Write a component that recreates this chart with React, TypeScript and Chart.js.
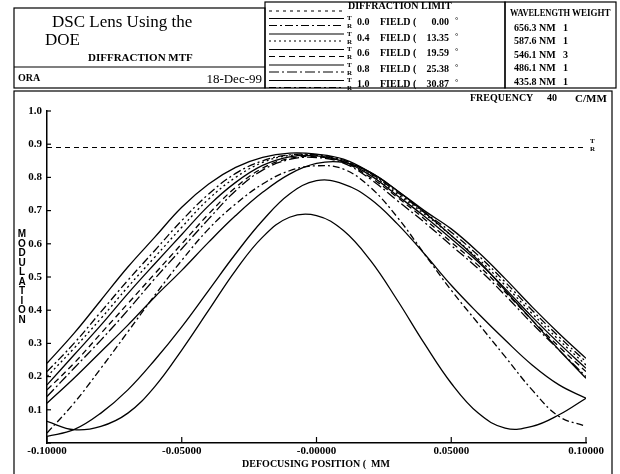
import React, { useEffect, useRef } from 'react';
import { Chart, registerables } from 'chart.js';

Chart.register(...registerables);

// ---------- data ----------
const defocus = [-0.1, -0.09, -0.08, -0.07, -0.06, -0.05, -0.04, -0.03, -0.02, -0.01, 0.0, 0.01, 0.02, 0.03, 0.04, 0.05, 0.06, 0.07, 0.08, 0.09, 0.1];

const field00T = [0.24, 0.33, 0.43, 0.53, 0.62, 0.71, 0.78, 0.83, 0.86, 0.873, 0.87, 0.855, 0.815, 0.76, 0.70, 0.645, 0.575, 0.495, 0.41, 0.33, 0.255];
const field00R = [0.215, 0.30, 0.395, 0.49, 0.58, 0.67, 0.75, 0.812, 0.85, 0.868, 0.868, 0.852, 0.812, 0.755, 0.695, 0.635, 0.565, 0.485, 0.40, 0.32, 0.245];
const field04T = [0.175, 0.265, 0.355, 0.45, 0.54, 0.628, 0.715, 0.785, 0.836, 0.862, 0.865, 0.848, 0.806, 0.745, 0.683, 0.615, 0.545, 0.465, 0.38, 0.30, 0.225];
const field04R = [0.20, 0.285, 0.375, 0.47, 0.56, 0.65, 0.735, 0.80, 0.845, 0.866, 0.866, 0.85, 0.81, 0.75, 0.69, 0.625, 0.555, 0.475, 0.39, 0.31, 0.235];
const field06T = [0.12, 0.195, 0.275, 0.355, 0.44, 0.52, 0.605, 0.685, 0.755, 0.81, 0.842, 0.845, 0.815, 0.76, 0.695, 0.625, 0.55, 0.46, 0.37, 0.28, 0.195];
const field06R = [0.16, 0.24, 0.33, 0.42, 0.51, 0.60, 0.69, 0.77, 0.828, 0.857, 0.862, 0.846, 0.80, 0.74, 0.675, 0.605, 0.535, 0.455, 0.37, 0.29, 0.215];
const field08T = [0.02, 0.04, 0.09, 0.16, 0.25, 0.35, 0.46, 0.57, 0.67, 0.75, 0.79, 0.78, 0.735, 0.66, 0.57, 0.475, 0.39, 0.31, 0.235, 0.175, 0.135];
const field08R = [0.14, 0.225, 0.31, 0.40, 0.495, 0.585, 0.675, 0.76, 0.822, 0.854, 0.86, 0.843, 0.795, 0.73, 0.665, 0.595, 0.525, 0.445, 0.36, 0.28, 0.20];
const field10T = [0.065, 0.04, 0.05, 0.09, 0.17, 0.28, 0.40, 0.52, 0.62, 0.68, 0.685, 0.64, 0.55, 0.43, 0.30, 0.18, 0.09, 0.045, 0.05, 0.085, 0.135];
const field10R = [0.03, 0.12, 0.225, 0.335, 0.445, 0.55, 0.645, 0.72, 0.78, 0.82, 0.835, 0.825, 0.77, 0.68, 0.57, 0.46, 0.36, 0.26, 0.16, 0.08, 0.05];

const diffractionLimit = 0.89;
const diffractionX = [-0.1, 0.1];

const xTickValues = [-0.1, -0.05, 0, 0.05, 0.1];
const xTickLabels = ['-0.10000', '-0.05000', '-0.00000', '0.05000', '0.10000'];
const yTickValues = [0, 0.1, 0.2, 0.3, 0.4, 0.5, 0.6, 0.7, 0.8, 0.9, 1.0];
const yTickLabels = ['', '0.1', '0.2', '0.3', '0.4', '0.5', '0.6', '0.7', '0.8', '0.9', '1.0'];

const fieldLabels = ['0.0', '0.4', '0.6', '0.8', '1.0'];
const fieldAngles = ['0.00', '13.35', '19.59', '25.38', '30.87'];
const wavelengths = ['656.3 NM', '587.6 NM', '546.1 NM', '486.1 NM', '435.8 NM'];
const weights = ['1', '1', '3', '1', '1'];

const tangential = [field00T, field04T, field06T, field08T, field10T];
const radial = [field00R, field04R, field06R, field08R, field10R];
const radialDash: number[][] = [[8, 3, 2, 3], [2, 3], [6, 4], [10, 3, 2, 3], [7, 3, 2, 3]];

// ---------- layout constants ----------
const W = 620;
const H = 474;
const SERIF = '"Liberation Serif", "DejaVu Serif", serif';
const SANS = '"Liberation Sans", "DejaVu Sans", sans-serif';

const LEG_X1 = 269;
const LEG_X2 = 344;
const rowY = (i: number) => 22 + i * 15.5;

const pts = (ys: number[]) => ys.map((y, i) => ({ x: defocus[i], y }));

const framePlugin = {
  id: 'frame',
  afterDraw(chart: any) {
    const ctx = chart.ctx as CanvasRenderingContext2D;
    ctx.save();
    ctx.strokeStyle = '#000';
    const seg = (x1: number, y1: number, x2: number, y2: number, dash: number[] = []) => {
      ctx.setLineDash(dash);
      ctx.beginPath();
      ctx.moveTo(x1, y1);
      ctx.lineTo(x2, y2);
      ctx.stroke();
    };
    // header boxes
    ctx.lineWidth = 1.2;
    ctx.setLineDash([]);
    ctx.strokeRect(14, 8, 251, 80);
    seg(14, 67, 265, 67);
    ctx.strokeRect(265, 2, 240, 86);
    ctx.strokeRect(505, 2, 111, 86);
    // main frame
    ctx.strokeRect(14, 91, 598, 390);

    // legend samples
    seg(LEG_X1, 11, LEG_X2, 11, [3, 4]);
    for (let i = 0; i < 5; i++) {
      const y = rowY(i);
      seg(LEG_X1, y - 3.5, LEG_X2, y - 3.5, []);
      seg(LEG_X1, y + 3.5, LEG_X2, y + 3.5, radialDash[i]);
    }

    // inward ticks
    const xs = chart.scales.x;
    const ys = chart.scales.y;
    xTickValues.forEach((v) => {
      const px = xs.getPixelForValue(v);
      seg(px, ys.bottom, px, ys.bottom - 6);
    });
    yTickValues.forEach((v) => {
      const py = ys.getPixelForValue(v);
      seg(xs.left, py, xs.left + 4, py);
    });
    ctx.restore();
  },
};

type TxtProps = {
  x: number;
  y: number;
  size: number;
  bold?: boolean;
  align?: 'left' | 'right' | 'center';
  family?: string;
  sx?: number;
  children: React.ReactNode;
};

function Txt({ x, y, size, bold, align = 'left', family = SERIF, sx = 1, children }: TxtProps) {
  const tx = align === 'left' ? '0' : align === 'right' ? '-100%' : '-50%';
  return (
    <div
      style={{
        position: 'absolute',
        left: x,
        top: y,
        transform: `translate(${tx}, -50%) scaleX(${sx})`,
        transformOrigin: align === 'left' ? 'left center' : align === 'right' ? 'right center' : 'center center',
        fontFamily: family,
        fontSize: size,
        fontWeight: bold ? 700 : 400,
        lineHeight: 1,
        whiteSpace: 'pre',
        color: '#000',
      }}
    >
      {children}
    </div>
  );
}

export default function App() {
  const canvasRef = useRef<HTMLCanvasElement | null>(null);

  useEffect(() => {
    const canvas = canvasRef.current;
    if (!canvas) return;
    const datasets: any[] = [];
    datasets.push({
      label: 'DIFFRACTION LIMIT',
      data: diffractionX.map((x) => ({ x, y: diffractionLimit })),
      borderColor: '#000',
      borderWidth: 1.2,
      borderDash: [5, 4],
      pointRadius: 0,
      tension: 0,
    });
    for (let i = 0; i < 5; i++) {
      datasets.push({
        label: `${fieldLabels[i]} T`,
        data: pts(tangential[i]),
        borderColor: '#000',
        borderWidth: 1.3,
        pointRadius: 0,
        tension: 0.4,
      });
      datasets.push({
        label: `${fieldLabels[i]} R`,
        data: pts(radial[i]),
        borderColor: '#000',
        borderWidth: 1.3,
        borderDash: radialDash[i],
        pointRadius: 0,
        tension: 0.4,
      });
    }

    const tickFont = { family: SERIF, weight: 'bold' as const, size: 11 };
    const chart = new Chart(canvas, {
      type: 'line',
      data: { datasets },
      options: {
        animation: false,
        responsive: false,
        maintainAspectRatio: false,
        layout: { padding: { left: 0, right: 34, top: 111, bottom: 0 } },
        plugins: { legend: { display: false }, tooltip: { enabled: false }, title: { display: false } },
        scales: {
          x: {
            type: 'linear',
            min: -0.1,
            max: 0.1,
            afterBuildTicks: (s: any) => {
              s.ticks = xTickValues.map((v) => ({ value: v }));
            },
            afterFit: (s: any) => {
              s.height = 31;
            },
            ticks: {
              callback: (_v: any, i: number) => xTickLabels[i],
              font: tickFont,
              color: '#000',
              padding: 2,
              maxRotation: 0,
              autoSkip: false,
            },
            grid: { display: true, drawOnChartArea: false, drawTicks: false },
            border: { display: true, color: '#000', width: 1.5 },
          },
          y: {
            type: 'linear',
            min: 0,
            max: 1,
            afterBuildTicks: (s: any) => {
              s.ticks = yTickValues.map((v) => ({ value: v }));
            },
            afterFit: (s: any) => {
              s.width = 47;
            },
            ticks: {
              callback: (_v: any, i: number) => yTickLabels[i],
              font: tickFont,
              color: '#000',
              padding: 5,
              autoSkip: false,
            },
            grid: { display: true, drawOnChartArea: false, drawTicks: false },
            border: { display: true, color: '#000', width: 1.5 },
          },
        },
      },
      plugins: [framePlugin],
    });
    return () => chart.destroy();
  }, []);

  const modulation = 'MODULATION'.split('');

  return (
    <div style={{ position: 'fixed', left: 0, top: 0, width: W, height: H, background: '#fff', overflow: 'hidden' }}>
      <canvas ref={canvasRef} width={W} height={H} style={{ position: 'absolute', left: 0, top: 0, width: W, height: H }} />
      <div style={{ position: 'absolute', left: 0, top: 0, width: W, height: H }}>
        <Txt x={52} y={21} size={17}>DSC Lens Using the</Txt>
        <Txt x={45} y={39} size={17}>DOE</Txt>
        <Txt x={88} y={57} size={11} bold>DIFFRACTION MTF</Txt>
        <Txt x={18} y={78} size={10} bold>ORA</Txt>
        <Txt x={262} y={78} size={13} align="right">18-Dec-99</Txt>

        <Txt x={348} y={6} size={10} bold>DIFFRACTION LIMIT</Txt>
        {fieldLabels.map((f, i) => (
          <React.Fragment key={f}>
            <Txt x={347} y={rowY(i) - 4} size={7} bold>T</Txt>
            <Txt x={347} y={rowY(i) + 4} size={7} bold>R</Txt>
            <Txt x={357} y={rowY(i)} size={10} bold>{f}</Txt>
            <Txt x={380} y={rowY(i)} size={10} bold>FIELD (</Txt>
            <Txt x={449} y={rowY(i)} size={10} bold align="right">{fieldAngles[i]}</Txt>
            <Txt x={455} y={rowY(i) - 1} size={8} bold>°</Txt>
          </React.Fragment>
        ))}

        <Txt x={510} y={13} size={10} bold sx={0.84}>WAVELENGTH</Txt>
        <Txt x={572} y={13} size={10} bold sx={0.9}>WEIGHT</Txt>
        {wavelengths.map((w, i) => (
          <React.Fragment key={w}>
            <Txt x={514} y={28 + i * 13.4} size={10} bold>{w}</Txt>
            <Txt x={563} y={28 + i * 13.4} size={10} bold>{weights[i]}</Txt>
          </React.Fragment>
        ))}

        <Txt x={470} y={98} size={10} bold>FREQUENCY</Txt>
        <Txt x={547} y={98} size={10} bold>40</Txt>
        <Txt x={575} y={98} size={11} bold>C/MM</Txt>

        {modulation.map((c, i) => (
          <Txt key={i} x={22} y={234 + i * 9.5} size={10} bold align="center" family={SANS}>{c}</Txt>
        ))}

        <Txt x={590} y={141} size={7} bold>T</Txt>
        <Txt x={590} y={149} size={7} bold>R</Txt>

        <Txt x={316} y={464} size={10} bold align="center">{'DEFOCUSING POSITION (  MM'}</Txt>
      </div>
    </div>
  );
}
